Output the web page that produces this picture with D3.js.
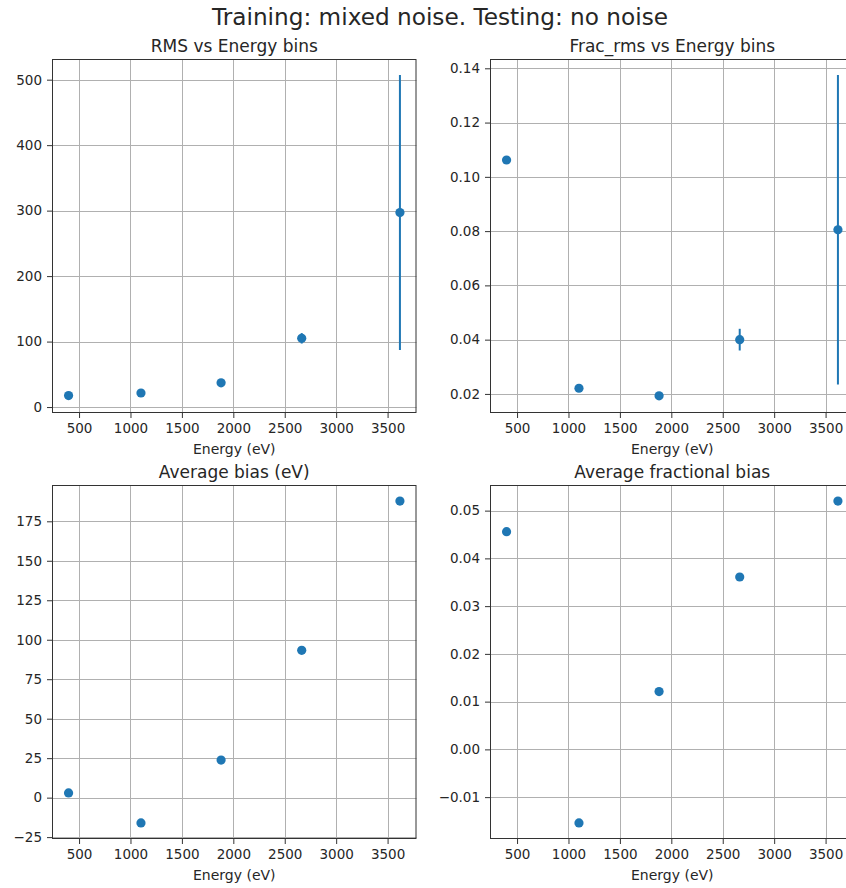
<!DOCTYPE html>
<html>
<head>
<meta charset="utf-8">
<script src="https://cdn.jsdelivr.net/npm/d3@7"></script>
<style>
  body { margin: 0; background: #fff; }
  svg { display: block; }
  text { font-family: "DejaVu Sans", sans-serif; fill: #262626; }
</style>
</head>
<body>
<svg id="fig" width="846" height="888"></svg>
<script>
// Energy bin centres (eV)
const energy = [398, 1102, 1881, 2665, 3620];

// RMS per bin and its uncertainty
const rms = [17.5, 21.5, 37, 105, 297];
const rmsErr = [2, 2, 2.5, 8, 210];

// Fractional RMS per bin and its uncertainty
const fracRms = [0.1062, 0.0221, 0.0193, 0.0400, 0.0805];
const fracRmsErr = [0.0005, 0.0004, 0.0004, 0.0040, 0.0570];

// Average bias (eV) and average fractional bias per bin
const bias = [3.0, -16.0, 23.8, 93.3, 187.8];
const fracBias = [0.0456, -0.0154, 0.0121, 0.0361, 0.0520];

// Tick values
const xTicks = [500, 1000, 1500, 2000, 2500, 3000, 3500];
const rmsTicks = [0, 100, 200, 300, 400, 500];
const fracRmsTicks = [0.02, 0.04, 0.06, 0.08, 0.10, 0.12, 0.14];
const biasTicks = [-25, 0, 25, 50, 75, 100, 125, 150, 175];
const fracBiasTicks = [-0.01, 0.00, 0.01, 0.02, 0.03, 0.04, 0.05];

const suptitle = "Training: mixed noise. Testing: no noise";
const xLabel = "Energy (eV)";

const svg = d3.select("#fig");
const BLUE = "#1f77b4";

// Subplot frames
const PW = 364.5, PH = 354;
const COLS = [52, 490], ROWS = [59, 485];

const panels = [
  { title: "RMS vs Energy bins", y: rms, err: rmsErr, ticks: rmsTicks, fmt: d3.format("d"), col: 0, row: 0 },
  { title: "Frac_rms vs Energy bins", y: fracRms, err: fracRmsErr, ticks: fracRmsTicks, fmt: d3.format(".2f"), col: 1, row: 0 },
  { title: "Average bias (eV)", y: bias, err: null, ticks: biasTicks, fmt: d3.format("d"), col: 0, row: 1 },
  { title: "Average fractional bias", y: fracBias, err: null, ticks: fracBiasTicks, fmt: d3.format(".2f"), col: 1, row: 1 }
];

// Data extent with a 5% margin on each side
function padded(lo, hi) {
  const p = 0.05 * (hi - lo);
  return [lo - p, hi + p];
}

svg.append("text")
  .attr("x", 440).attr("y", 25)
  .attr("text-anchor", "middle")
  .attr("font-size", 23.2)
  .text(suptitle);

const xDom = padded(d3.min(energy), d3.max(energy));

panels.forEach(p => {
  const x0 = COLS[p.col], y0 = ROWS[p.row];
  const g = svg.append("g").attr("transform", `translate(${x0},${y0})`);

  const x = d3.scaleLinear().domain(xDom).range([0, PW]);
  const e = p.err || p.y.map(() => 0);
  const lo = d3.min(p.y.map((v, i) => v - e[i]));
  const hi = d3.max(p.y.map((v, i) => v + e[i]));
  const y = d3.scaleLinear().domain(padded(lo, hi)).range([PH, 0]);

  const snap = v => Math.round(v) + 0.5;

  // grid
  const grid = g.append("g").attr("stroke", "#b0b0b0").attr("stroke-width", 1);
  xTicks.forEach(t => {
    grid.append("line").attr("x1", snap(x(t))).attr("x2", snap(x(t)))
      .attr("y1", 0).attr("y2", PH);
  });
  p.ticks.forEach(t => {
    grid.append("line").attr("y1", snap(y(t))).attr("y2", snap(y(t)))
      .attr("x1", 0).attr("x2", PW);
  });

  // error bars
  if (p.err) {
    g.append("g").selectAll("line").data(energy).join("line")
      .attr("x1", (d) => x(d)).attr("x2", (d) => x(d))
      .attr("y1", (d, i) => y(p.y[i] - p.err[i]))
      .attr("y2", (d, i) => y(p.y[i] + p.err[i]))
      .attr("stroke", BLUE).attr("stroke-width", 2);
  }

  // markers
  g.append("g").selectAll("circle").data(energy).join("circle")
    .attr("cx", d => x(d))
    .attr("cy", (d, i) => y(p.y[i]))
    .attr("r", 4.6)
    .attr("fill", BLUE);

  // frame
  g.append("rect").attr("x", 0.5).attr("y", 0.5)
    .attr("width", PW - 1).attr("height", PH - 1)
    .attr("fill", "none").attr("stroke", "#333").attr("stroke-width", 1);

  // axes
  const xa = g.append("g").attr("transform", `translate(0,${PH})`)
    .call(d3.axisBottom(x).tickValues(xTicks).tickFormat(d3.format("d")).tickSize(5).tickPadding(5.5));
  const ya = g.append("g")
    .call(d3.axisLeft(y).tickValues(p.ticks).tickFormat(p.fmt).tickSize(5).tickPadding(5));
  [xa, ya].forEach(a => {
    a.select(".domain").remove();
    a.selectAll(".tick line").attr("stroke", "#333");
    a.selectAll("text").attr("font-size", 13.5).attr("font-family", "DejaVu Sans").attr("fill", "#262626");
  });

  // title
  g.append("text").attr("x", PW / 2).attr("y", -6.8)
    .attr("text-anchor", "middle").attr("font-size", 17)
    .text(p.title);

  // x label
  g.append("text").attr("x", PW / 2).attr("y", PH + 41)
    .attr("text-anchor", "middle").attr("font-size", 14)
    .text(xLabel);
});
</script>
</body>
</html>
